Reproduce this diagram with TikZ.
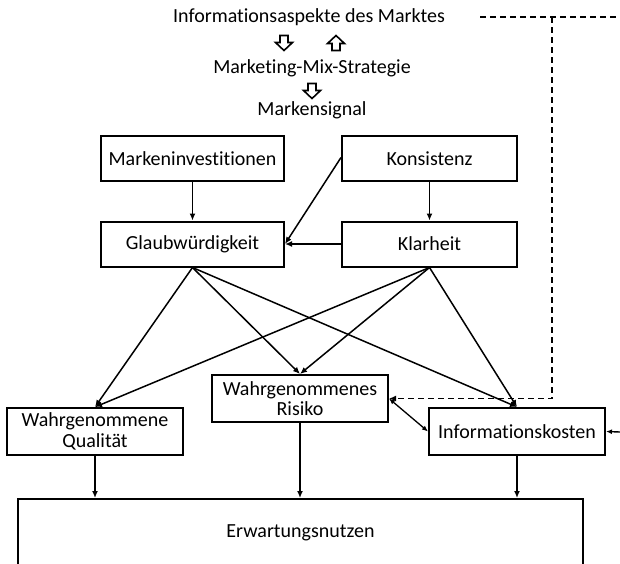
\documentclass[tikz,border=0pt]{standalone}
\usepackage{fontspec}
\setmainfont[Ligatures=NoCommon]{Carlito}
\usetikzlibrary{arrows.meta}
\begin{document}
\begin{tikzpicture}[x=1pt,y=-1pt,
  every node/.style={font=\fontsize{20}{22.5}\selectfont, inner sep=0pt},
  box/.style={draw, line width=2pt, minimum height=45pt, align=center},
  wide/.style={box, minimum width=183pt},
  mid/.style={box, minimum width=175pt},
  conn/.style={line width=1.5pt, -{Latex[length=7pt,width=6pt]}},
  both/.style={line width=1.3pt, {Latex[length=6pt,width=5pt]}-{Latex[length=6pt,width=5pt]}},
  feedback/.style={line width=1.8pt, dash pattern=on 6pt off 4pt},
  hollow/.style={draw, line width=1.6pt, fill=white, line join=miter}
]
\clip (0,0) rectangle (620,563);

% heading texts
\node (info) at (309,17) {Informationsaspekte des Marktes};
\node (mms) at (312,68) {Marketing-Mix-Strategie};
\node (sig) at (312,110) {Markensignal};

% hollow block arrows between the heading lines
\foreach \cx/\cy/\d in {284/43/1, 336/43/-1, 312/91/1} {
  \draw[hollow] (\cx-4,\cy-7.5*\d) -- (\cx+4,\cy-7.5*\d) -- (\cx+4,\cy-0.5*\d) --
    (\cx+8.5,\cy-0.5*\d) -- (\cx,\cy+7.5*\d) -- (\cx-8.5,\cy-0.5*\d) -- (\cx-4,\cy-0.5*\d) -- cycle;
}

% boxes
\node[wide] (inv) at (192.5,158.5) {Markeninvestitionen};
\node[mid]  (kon) at (429.5,158.5) {Konsistenz};
\node[wide] (gla) at (192.5,244) {Glaubwürdigkeit};
\node[mid]  (kla) at (429.5,244) {Klarheit};
\node[box, minimum width=176pt, minimum height=47pt] (qua) at (95,431.5) {Wahrgenommene\\[-2pt]Qualität};
\node[box, minimum width=176pt, minimum height=47pt] (ris) at (300,398.5) {Wahrgenommenes\\[-2pt]Risiko};
\node[box, minimum width=176pt, minimum height=47pt] (kos) at (517,431.5) {Informationskosten};
\node[box, minimum width=565pt, minimum height=68pt] (erw) at (300.5,533) {Erwartungsnutzen};

% upper connectors
\draw[conn] (inv) -- (gla);
\draw[conn] (kon) -- (kla);
\coordinate (konw) at ([yshift=1pt]kon.west);
\draw[conn] (konw) -- (gla.east);
\draw[conn] (kla) -- (gla);

% fan of connectors to the three perceived quantities
\foreach \s in {gla,kla} {
  \draw[conn] (\s.south) -- (qua.north);
  \draw[conn] (\s.south) -- (ris.north);
  \draw[conn] (\s.south) -- (kos.north);
}

% into the expected utility
\draw[conn] (qua) -- (qua |- erw.north);
\draw[conn] (ris) -- (ris |- erw.north);
\draw[conn] (kos) -- (kos |- erw.north);

% risk and cost
\draw[both] (ris.east) -- (kos.west);
\coordinate (rin) at (620,432);
\draw[line width=1.4pt, -{Latex[length=6pt,width=5pt]}] (rin) -- (kos.east);

% dashed feedback line
\coordinate (d0) at (480,17);
\coordinate (d1) at (620,17);
\coordinate (d2) at (552,17);
\coordinate (d3) at (552,398.5);
\draw[feedback] (d0) -- (d1);
\draw[feedback, -{Latex[length=7pt,width=6pt]}] (d2) -- (d3) -- (ris.east);
\end{tikzpicture}
\end{document}
